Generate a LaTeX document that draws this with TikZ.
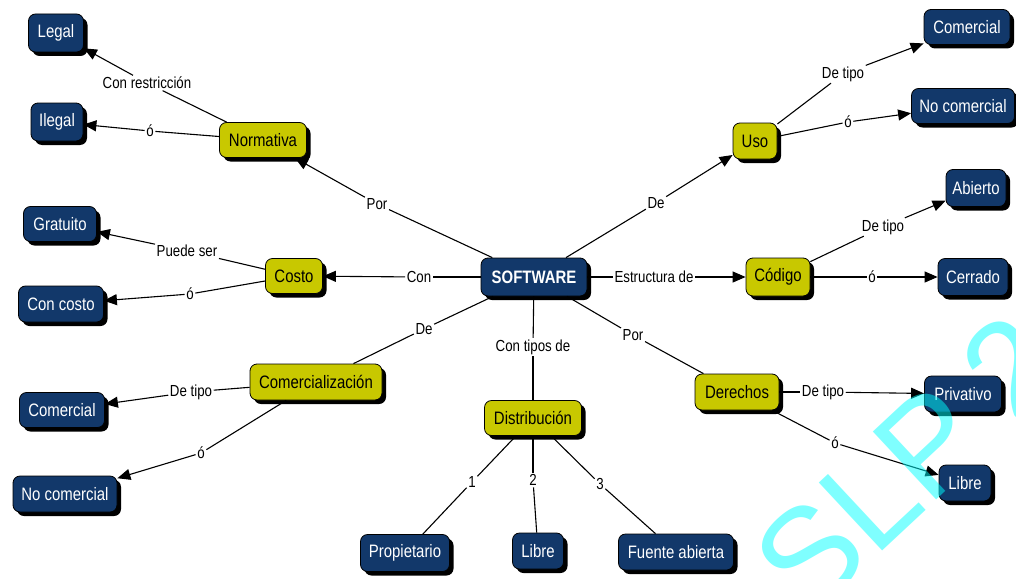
\documentclass[tikz,border=0pt]{standalone}
\usepackage{fontspec}
\setmainfont{Liberation Sans}[FakeStretch=0.83]
\newfontfamily\wmfont{Liberation Sans}
\usetikzlibrary{shadows,arrows.meta}
\definecolor{navyc}{HTML}{12386A}
\definecolor{olivec}{HTML}{C8C800}
\definecolor{wmcyan}{RGB}{0,255,255}
\tikzset{
  concept/.style={rounded corners=7pt, draw=black, line width=0.8pt, minimum height=36pt,
    inner xsep=0pt, inner ysep=0pt, font=\fontsize{18}{18}\selectfont,
    drop shadow={shadow xshift=4pt, shadow yshift=-4pt, fill=black, opacity=1}},
  bluebox/.style={concept, fill=navyc, text=white},
  yelbox/.style={concept, fill=olivec, text=black},
  lab/.style={font=\fontsize{16}{16}\selectfont, inner sep=1.5pt, text=black},
  ln/.style={line width=1.1pt, draw=black},
  arr/.style={ln, -{Triangle[length=13pt,width=11pt]}},
}
\begin{document}
\begin{tikzpicture}[x=1pt,y=-1pt]
\useasboundingbox (0,0) rectangle (1016,578);
\fill[white] (0,0) rectangle (1016,578);
% concepts
\node[bluebox, minimum width=106pt, minimum height=38pt, font=\fontsize{18}{18}\selectfont\bfseries] (software) at (534,277) {SOFTWARE};
\node[yelbox, minimum width=87pt, minimum height=35pt] (normativa) at (263,140) {Normativa};
\node[bluebox, minimum width=55pt, minimum height=38pt] (legal) at (56,33) {Legal};
\node[bluebox, minimum width=52pt, minimum height=38pt] (ilegal) at (57,122) {Ilegal};
\node[yelbox, minimum width=57pt, minimum height=35pt] (costo) at (294,276) {Costo};
\node[bluebox, minimum width=73pt, minimum height=35pt] (gratuito) at (60,224) {Gratuito};
\node[bluebox, minimum width=85pt, minimum height=36pt] (concosto) at (61,304) {Con costo};
\node[yelbox, minimum width=132pt, minimum height=36pt] (comerc) at (316,382) {Comercialización};
\node[bluebox, minimum width=85pt, minimum height=35pt] (comL) at (62,410) {Comercial};
\node[bluebox, minimum width=104pt, minimum height=36pt] (nocomL) at (65,494) {No comercial};
\node[yelbox, minimum width=97pt, minimum height=35pt] (distrib) at (533,418) {Distribución};
\node[bluebox, minimum width=89pt, minimum height=37pt] (propiet) at (405,553) {Propietario};
\node[bluebox, minimum width=51pt, minimum height=36pt] (libreB) at (538,551) {Libre};
\node[bluebox, minimum width=115pt, minimum height=36pt] (fuente) at (676,552) {Fuente abierta};
\node[yelbox, minimum width=44pt, minimum height=36pt] (uso) at (755,141) {Uso};
\node[bluebox, minimum width=86pt, minimum height=35pt] (comR) at (967,27) {Comercial};
\node[bluebox, minimum width=103pt, minimum height=35pt] (nocomR) at (963,106) {No comercial};
\node[yelbox, minimum width=64pt, minimum height=38pt] (codigo) at (778,277) {Código};
\node[bluebox, minimum width=60pt, minimum height=37pt] (abierto) at (976,188) {Abierto};
\node[bluebox, minimum width=70pt, minimum height=37pt] (cerrado) at (973,277) {Cerrado};
\node[yelbox, minimum width=84pt, minimum height=36pt] (derechos) at (737,392) {Derechos};
\node[bluebox, minimum width=77pt, minimum height=36pt] (privativo) at (963,394) {Privativo};
\node[bluebox, minimum width=52pt, minimum height=36pt] (libreR) at (965,483) {Libre};
% linking phrases
\node[lab] (l1) at (147,83) {Con restricción};
\node[lab] (l2) at (150,131) {ó};
\node[lab] (l3) at (377,204) {Por};
\node[lab] (l4) at (187,251) {Puede ser};
\node[lab] (l5) at (190,294) {ó};
\node[lab] (l6) at (419,277) {Con};
\node[lab] (l7) at (424,329) {De};
\node[lab] (l8) at (191,392) {De tipo};
\node[lab] (l9) at (201,453) {ó};
\node[lab] (l10) at (533,347) {Con tipos de};
\node[lab] (l11) at (472,482) {1};
\node[lab] (l12) at (533,480) {2};
\node[lab] (l13) at (600,484) {3};
\node[lab] (l14) at (656,203) {De};
\node[lab] (l15) at (843,74) {De tipo};
\node[lab] (l16) at (848,122) {ó};
\node[lab] (l17) at (883,227) {De tipo};
\node[lab] (l18) at (872,277) {ó};
\node[lab] (l19) at (654,277) {Estructura de};
\node[lab] (l20) at (633,335) {Por};
\node[lab] (l21) at (823,392) {De tipo};
\node[lab] (l22) at (835,443) {ó};
% connectors
\draw[ln] (normativa) -- (l1); \draw[arr] (l1) -- (legal);
\draw[ln] (normativa) -- (l2); \draw[arr] (l2) -- (ilegal);
\draw[ln] (software) -- (l3); \draw[arr] (l3) -- (normativa);
\draw[ln] (costo) -- (l4); \draw[arr] (l4) -- (gratuito);
\draw[ln] (costo) -- (l5); \draw[arr] (l5) -- (concosto);
\draw[ln] (software) -- (l6); \draw[arr] (l6) -- (costo);
\draw[ln] (software) -- (l7); \draw[ln] (l7) -- (comerc);
\draw[ln] (comerc) -- (l8); \draw[arr] (l8) -- (comL);
\draw[ln] (comerc) -- (l9); \draw[arr] (l9) -- (nocomL);
\draw[ln] (software) -- (l10); \draw[ln] (l10) -- (distrib);
\draw[ln] (distrib) -- (l11); \draw[ln] (l11) -- (propiet);
\draw[ln] (distrib) -- (l12); \draw[ln] (l12) -- (libreB);
\draw[ln] (distrib) -- (l13); \draw[ln] (l13) -- (fuente);
\draw[ln] (software) -- (l14); \draw[arr] (l14) -- (uso);
\draw[ln] (uso) -- (l15); \draw[arr] (l15) -- (comR);
\draw[ln] (uso) -- (l16); \draw[arr] (l16) -- (nocomR);
\draw[ln] (codigo) -- (l17); \draw[arr] (l17) -- (abierto);
\draw[ln] (codigo) -- (l18); \draw[arr] (l18) -- (cerrado);
\draw[ln] (software) -- (l19); \draw[arr] (l19) -- (codigo);
\draw[ln] (software) -- (l20); \draw[ln] (l20) -- (derechos);
\draw[ln] (derechos) -- (l21); \draw[arr] (l21) -- (privativo);
\draw[ln] (derechos) -- (l22); \draw[arr] (l22) -- (libreR);
% watermark
\node[anchor=base west, rotate=43, inner sep=0pt, text=wmcyan, text opacity=0.5,
      font=\wmfont\fontsize{135}{135}\selectfont] (wm) at (808,620) {SLP\hspace{28pt}2};
\end{tikzpicture}
\end{document}
